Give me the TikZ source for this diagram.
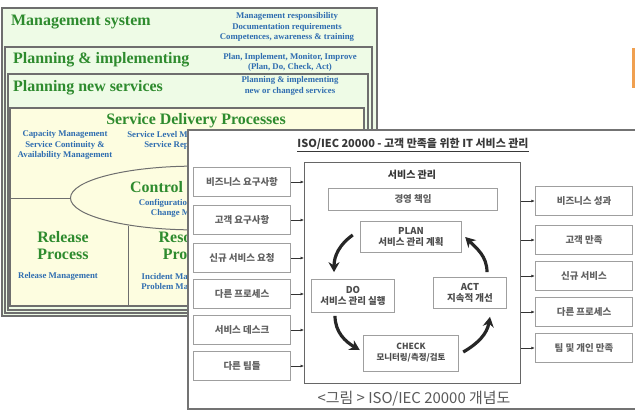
\documentclass[tikz,border=0pt]{standalone}
\usepackage{fontspec}
\setmainfont{Liberation Serif}
\newfontfamily\kr{Noto Sans CJK KR}
\usetikzlibrary{arrows.meta,shapes.geometric}
\definecolor{bggreen}{HTML}{EEFBE6}
\definecolor{bgyellow}{HTML}{FDFDE0}
\definecolor{hdgreen}{HTML}{2E8B2E}
\definecolor{noteblue}{HTML}{2F6DB0}
\definecolor{framegray}{HTML}{6E6E6E}
\definecolor{orangebar}{HTML}{F0A050}
\begin{document}
\begin{tikzpicture}[x=1bp, y=-1bp,
    frame/.style={draw=framegray, line width=1.4pt},
    hd/.style={text=hdgreen, font=\bfseries\fontsize{16}{17}\selectfont, inner sep=0pt, align=center},
    note/.style={text=noteblue, font=\bfseries\fontsize{8.8}{10.2}\selectfont, align=center, inner sep=0pt},
    kbox/.style={draw=gray!75, line width=0.8pt, fill=white, minimum width=98, minimum height=29, inner sep=1pt, font=\kr\bfseries\fontsize{9.5}{10}\selectfont, text=black!62},
    pbox/.style={kbox, align=center, font=\kr\bfseries\fontsize{9.5}{11}\selectfont, text=black!70},
    feed/.style={-{Latex[length=3.5pt,width=3pt]}, line width=0.6pt, black!80},
    cyc/.style={-{Stealth[length=10pt,width=11pt]}, line width=3.2pt, black!85}]
    \useasboundingbox (0,0) rectangle (635,411);
    \fill[white] (0,0) rectangle (635,411);
    % back picture
    \draw[frame, fill=bggreen] (2,8) rectangle (377,316);
    \draw[frame, fill=bggreen] (5,47) rectangle (372,313);
    \draw[frame, fill=bggreen] (8,74) rectangle (368,310);
    \draw[frame, fill=bgyellow] (10,108) rectangle (364,306);
    \node[hd, anchor=west] (ms) at (11,22) {Management system};
    \node[note] (msnote) at (287,27) {Management responsibility\\Documentation requirements\\Competences, awareness \& training};
    \node[hd, anchor=west] (pi) at (13,60) {Planning \& implementing};
    \node[note] (pinote) at (290,62) {Plan, Implement, Monitor, Improve\\(Plan, Do, Check, Act)};
    \node[hd, anchor=west] (pn) at (13,88) {Planning new services};
    \node[note] (pnnote) at (290,86) {Planning \& implementing\\new or changed services};
    \node[hd] (sdp) at (196,121) {Service Delivery Processes};
    \node[note] (cap) at (65,145) {Capacity Management\\Service Continuity \&\\Availability Management};
    \node[note] (slm) at (178,140) {Service Level Management\\Service Reporting};
    \node[ellipse, draw=framegray, line width=1pt, fill=bgyellow, minimum width=250, minimum height=64] (ctrl) at (195,198) {};
    \draw[framegray, line width=1pt] (ctrl.west -| 10,0) -- (ctrl.west);
    \draw[framegray, line width=1pt] (128,226) -- (128,306);
    \node[hd, anchor=west] (ctrlt) at (130,187) {Control};
    \node[note] (ctrln) at (191,208) {Configuration Management\\Change Management};
    \node[hd] (rel) at (63,246) {Release\\Process};
    \node[note] (reln) at (58,276) {Release Management};
    \node[hd] (res) at (195,246) {Resolution\\Processes};
    \node[note] (resn) at (183,282) {Incident Management\\Problem Management};
    \fill[orangebar] (632,48) rectangle (635,88);
    % front picture
    \draw[black!55, line width=1.2pt, fill=white] (188,130) rectangle (640,409);
    \node[font=\kr\bfseries\fontsize{11}{12}\selectfont, text=black!78] (title) at (413,145) {\underline{ISO/IEC 20000 - 고객 만족을 위한 IT 서비스 관리}};
    \node[draw=black!60, line width=0.8pt, minimum width=217, minimum height=222, anchor=north west] (svc) at (304,162) {};
    \node[font=\kr\bfseries\fontsize{10}{11}\selectfont, text=black!80] (svct) at (412,175) {서비스 관리};
    \node[kbox, minimum width=170, minimum height=22] (mgmt) at (413,199) {경영 책임};
    \node[pbox, minimum width=102, minimum height=31] (plan) at (411,237) {PLAN\\서비스 관리 계획};
    \node[pbox, minimum width=83, minimum height=33] (do) at (353,296) {DO\\서비스 관리 실행};
    \node[pbox, minimum width=74, minimum height=31] (act) at (470,293) {ACT\\지속적 개선};
    \node[pbox, minimum width=96, minimum height=36, font=\kr\bfseries\fontsize{8.5}{11}\selectfont] (check) at (411,353) {CHECK\\모니터링/측정/검토};
    \draw[cyc] ([shift={(-7,-2)}]plan.west) to[out=215, in=90] ([shift={(-19,-7)}]do.north);
    \draw[cyc] ([shift={(-18,3)}]do.south) to[out=270, in=150] ([shift={(-3,-3)}]check.west);
    \draw[cyc] ([shift={(4,-1)}]check.east) to[out=30, in=260] ([shift={(20,8)}]act.south);
    \draw[cyc] ([shift={(17,-5)}]act.north) to[out=90, in=315] ([shift={(3,0)}]plan.east);
    \foreach \n/\y/\t in {1/182/비즈니스 요구사항, 2/220/고객 요구사항, 3/258/신규 서비스 요청,
        4/294/다른 프로세스, 5/330/서비스 데스크, 6/366/다른 팀들} {
        \node[kbox] (in\n) at (242,\y) {\t};
        \draw[feed] (in\n.east) -- (in\n.east -| svc.west);
    }
    \foreach \n/\y/\t in {1/201/비즈니스 성과, 2/240/고객 만족, 3/276/신규 서비스,
        4/312/다른 프로세스, 5/348/팀 및 개인 만족} {
        \node[kbox] (out\n) at (584,\y) {\t};
        \draw[feed] (out\n.west -| svc.east) -- (out\n.west);
    }
    \node[font=\kr\fontsize{15}{15}\selectfont, text=black!65] (capt) at (414,399) {<그림 > ISO/IEC 20000 개념도};
\end{tikzpicture}
\end{document}
